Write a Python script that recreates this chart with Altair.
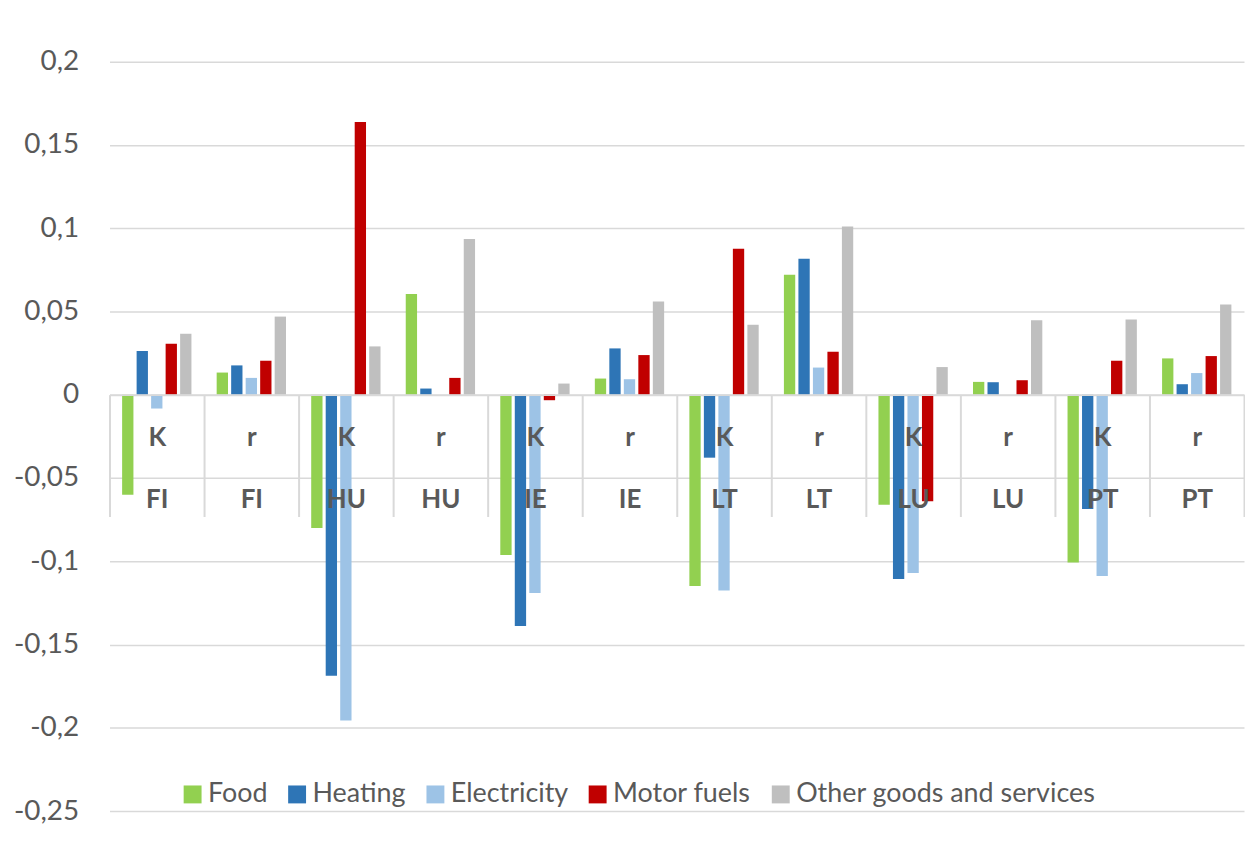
import altair as alt
import pandas as pd

# ---- data ----
countries = ["FI", "FI", "HU", "HU", "IE", "IE", "LT", "LT", "LU", "LU", "PT", "PT"]
kinds = ["K", "r", "K", "r", "K", "r", "K", "r", "K", "r", "K", "r"]
series = ["Food", "Heating", "Electricity", "Motor fuels", "Other goods and services"]
colors = ["#92d050", "#2e75b6", "#9dc3e6", "#c00000", "#bfbfbf"]

food = [-0.060, 0.0133, -0.080, 0.0605, -0.0963, 0.0097, -0.1149, 0.072, -0.066, 0.0077, -0.1007, 0.0218]
heating = [0.0262, 0.0176, -0.1687, 0.0037, -0.1388, 0.0278, -0.0378, 0.0816, -0.1107, 0.0075, -0.0686, 0.0063]
electricity = [-0.0083, 0.0101, -0.1956, 0.0, -0.119, 0.0093, -0.1175, 0.0163, -0.107, 0.0, -0.1089, 0.013]
motor_fuels = [0.0306, 0.0204, 0.1637, 0.0101, -0.0033, 0.0238, 0.0876, 0.0258, -0.064, 0.0087, 0.0204, 0.0232]
other = [0.0366, 0.0469, 0.029, 0.0935, 0.0067, 0.0559, 0.042, 0.101, 0.0166, 0.0447, 0.0451, 0.0541]

y_ticks = [-0.25, -0.2, -0.15, -0.1, -0.05, 0, 0.05, 0.1, 0.15, 0.2]

# ---- tables ----
groups = [f"{k}|{c}" for c, k in zip(countries, kinds)]
values = [food, heating, electricity, motor_fuels, other]
rows = []
for s, vals in zip(series, values):
    for g, v in zip(groups, vals):
        rows.append({"grp": g, "series": s, "value": v})
bars_df = pd.DataFrame(rows)

W, H = 1140, 800
FONT = "Lato"
TXT = "#595959"
GRID = "#d9d9d9"
Y_MIN, Y_MAX = -0.25, 0.228

bars = alt.Chart(bars_df).mark_bar().encode(
    x=alt.X("grp:N", sort=groups,
            scale=alt.Scale(paddingInner=0, paddingOuter=0),
            axis=alt.Axis(orient="bottom", offset=-418.5, title=None, zindex=1,
                          domain=True, domainColor=GRID, domainWidth=2,
                          ticks=True, tickBand="extent", tickSize=122.5,
                          tickColor=GRID, tickWidth=2,
                          labelExpr="split(datum.label, '|')",
                          labelFont=FONT, labelFontSize=26, labelFontWeight="bold",
                          labelColor=TXT, labelAngle=0, labelBaseline="alphabetic",
                          labelPadding=-71.3, labelLineHeight=62,
                          labelOverlap=False, labelLimit=200, grid=False)),
    xOffset=alt.XOffset("series:N", sort=series,
                        scale=alt.Scale(paddingInner=0.22, paddingOuter=0.87)),
    y=alt.Y("value:Q", scale=alt.Scale(domain=[Y_MIN, Y_MAX], nice=False),
            axis=alt.Axis(values=y_ticks,
                          labelExpr="replace(toString(datum.value), '.', ',')",
                          grid=True, gridColor=GRID, gridWidth=1.5,
                          domain=False, ticks=False, title=None,
                          labelFont=FONT, labelFontSize=28, labelColor=TXT,
                          labelPadding=31)),
    color=alt.Color("series:N", sort=series,
                    scale=alt.Scale(domain=series, range=colors),
                    legend=alt.Legend(orient="none", direction="horizontal",
                                      legendX=70, legendY=769.5, title=None,
                                      symbolType="square", symbolSize=324,
                                      symbolStrokeWidth=0, labelOffset=2,
                                      columnPadding=16,
                                      labelFont=FONT, labelFontSize=27,
                                      labelColor=TXT, labelLimit=500)),
)

chart = bars.properties(
    width=W, height=H,
    padding={"left": 5, "top": 5, "right": 0, "bottom": 5},
).configure_view(stroke=None)

chart.save("out.html", embed_options={"renderer": "svg", "actions": False})
